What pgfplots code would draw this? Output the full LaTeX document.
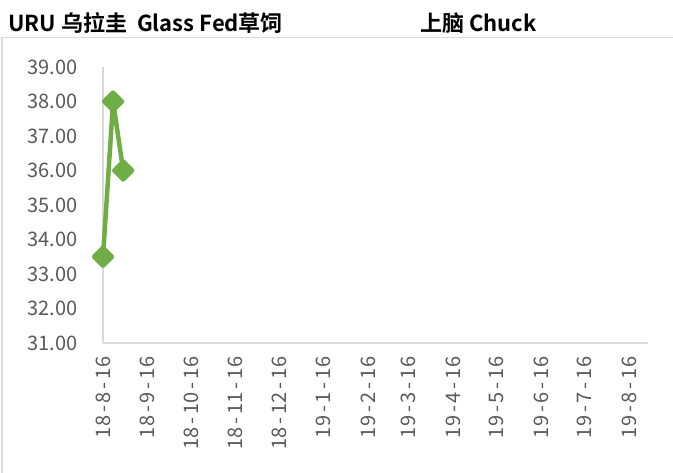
\documentclass[border=0pt]{standalone}
\usepackage{pgfplots}
\pgfplotsset{compat=1.18}
\usepackage{fontspec}
\setmainfont{Noto Sans CJK SC}[BoldFont={Noto Sans CJK SC Bold}]
\definecolor{axgray}{RGB}{217,217,217}
\definecolor{lblgray}{RGB}{89,89,89}
\definecolor{lgreen}{RGB}{112,173,71}
\def\spc#1{\spcA#1\relax}
\def\spcA#1{\ifx\relax#1\else\makebox[11.7bp]{#1}\expandafter\spcA\fi}
\begin{document}
\begin{tikzpicture}[x=1bp,y=1bp]
\begin{axis}[
  anchor=south west,
  scale only axis, width=545bp, height=276bp,
  xmin=0, xmax=378, ymin=31, ymax=39,
  ytick={31,32,...,39},
  xtick={0,31,61,92,122,153,184,212,243,273,304,334,365},
  xticklabels={\spc{18-8-16},\spc{18-9-16},\spc{18-10-16},\spc{18-11-16},\spc{18-12-16},\spc{19-1-16},\spc{19-2-16},\spc{19-3-16},\spc{19-4-16},\spc{19-5-16},\spc{19-6-16},\spc{19-7-16},\spc{19-8-16}},
  axis x line*=bottom, axis y line*=left,
  axis line style={-, axgray, line width=1.3bp},
  major tick length=0pt,
  tick label style={font=\fontsize{20bp}{24bp}\selectfont, color=lblgray},
  yticklabel style={anchor=east, xshift=-22bp, /pgf/number format/.cd, fixed, fixed zerofill, precision=2, assume math mode=true},
  xticklabel style={rotate=90, anchor=east, xshift=-10bp},
  clip=false,
]
\addplot[color=lgreen, line width=4.5bp, line join=round, mark=square*, mark size=6.3bp, mark options={rotate=45, solid, fill=lgreen}] coordinates {(0,33.5) (7,38) (14,36)};
\end{axis}
\begin{scope}[shift={(-103,-130)}]
\draw[axgray, line width=1.3bp] (2,0) -- (2,473-37.5) -- (673,473-37.5);
\node[anchor=base west, inner sep=0pt, font=\bfseries\fontsize{22bp}{26bp}\selectfont] at (8,473-32) {URU 乌拉圭\ \ Glass Fed草饲};
\node[anchor=base west, inner sep=0pt, font=\bfseries\fontsize{22bp}{26bp}\selectfont] at (420,473-32) {上脑 Chuck};
\pgfresetboundingbox
\path[use as bounding box] (0,0) rectangle (673,473);
\end{scope}
\end{tikzpicture}
\end{document}
